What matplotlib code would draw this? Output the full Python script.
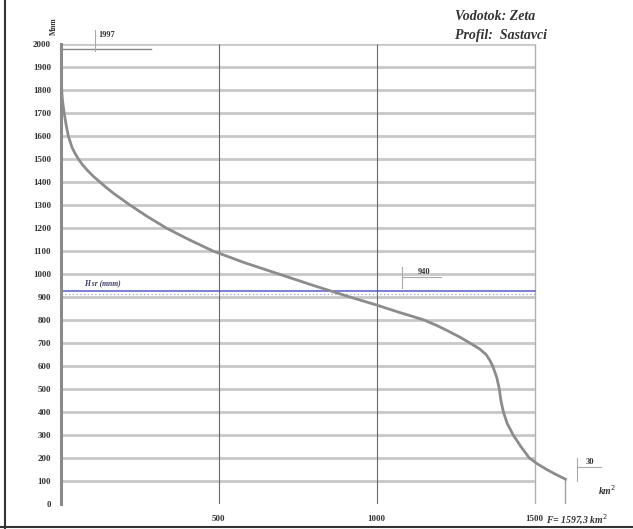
import numpy as np
import matplotlib.pyplot as plt
from matplotlib.lines import Line2D

# hypsographic curve
elev = [1997, 1950, 1900, 1850, 1800, 1750, 1700, 1650, 1600, 1550, 1525, 1500,
        1475, 1450, 1425, 1400, 1375, 1350, 1300, 1250, 1200, 1150, 1100, 1050,
        1000, 950, 900, 865, 832, 815, 800, 775, 750, 725, 700, 675, 650, 625,
        600, 550, 500, 450, 400, 350, 300, 250, 200, 175, 150, 130, 108]
area = [0, 0.5, 1, 2, 3, 6, 11, 17, 24, 36, 45, 56,
        69, 85, 103, 124, 145, 168, 219, 274, 334, 405, 482, 580,
        690, 800, 915, 1000, 1074, 1115, 1150, 1192, 1229, 1264, 1295, 1325,
        1346, 1358, 1367, 1380, 1388, 1393, 1401, 1413, 1432, 1456, 1483, 1508,
        1538, 1565, 1597.3]

y_ticks = list(range(0, 2001, 100))
x_ticks = [500, 1000, 1500]
F_total = 1597.3
H_mean = 927
H_max = 1997
H_mid = 940
H_min = 30

W, H = 633, 529
fig = plt.figure(figsize=(W / 100, H / 100), dpi=100)
# 0 km2 at x=60.7 px, 0.316 px per km2; 0 m at y=504 px, 0.23 px per m
ax = fig.add_axes([60.7 / W, (H - 504) / H, 560 / W, 460 / H])
ax.set_xlim(0, 560 / 0.316)
ax.set_ylim(0, 2000)

for s in ["top", "right", "bottom"]:
    ax.spines[s].set_visible(False)
ax.spines["left"].set_color("#8a8a8a")
ax.spines["left"].set_linewidth(2.2)

serif = ["Liberation Serif", "DejaVu Serif"]
ax.set_yticks(y_ticks)
ax.set_yticklabels([str(v) for v in y_ticks], family=serif, fontweight="bold",
                   fontsize=6.5, color="#333333")
ax.set_xticks(x_ticks)
ax.set_xticklabels([str(v) for v in x_ticks], family=serif, fontweight="bold",
                   fontsize=6.5, color="#333333")
ax.tick_params(axis="both", length=0)
ax.tick_params(axis="y", pad=7)
ax.tick_params(axis="x", pad=8)

# grid
ax.hlines(y_ticks[1:], 0, 1500, color="#c8c8c8", lw=2.0, zorder=1)
ax.vlines(x_ticks[:2], 0, 2000, color="#6a6a6a", lw=0.8, zorder=1)
ax.vlines(x_ticks[2], 0, 2000, color="#b0b0b0", lw=1.0, zorder=1)

# mean height line
ax.plot([0, 1500], [H_mean, H_mean], color="#5a5ac8", lw=1.1, zorder=2)
ax.plot([0, 1500], [H_mean - 14, H_mean - 14], color="#a0a0d8", lw=0.9,
        ls=(0, (1, 2)), zorder=2)
ax.text(75, H_mean + 25, "H sr (mnm)", family=serif, style="italic",
        fontweight="bold", fontsize=5.5, color="#3a3a6a")

# curve
ax.plot(area, elev, color="#8c8c8c", lw=2.0, zorder=3,
        solid_joinstyle="round")
ax.vlines(F_total, 0, elev[-1], color="#a0a0a0", lw=1.0, zorder=2)

# annotations
ax.plot([0, 285], [1980, 1980], color="#888888", lw=1.0, clip_on=False)
ax.plot([110, 110], [1970, 2060], color="#aaaaaa", lw=0.8, clip_on=False)
ax.text(120, 2030, str(H_max), family=serif, fontweight="bold", fontsize=6,
        color="#333333", clip_on=False)
ax.plot([1080, 1205], [H_mid + 45, H_mid + 45], color="#aaaaaa", lw=0.8)
ax.plot([1080, 1080], [H_mid, H_mid + 90], color="#aaaaaa", lw=0.8)
ax.text(1130, H_mid + 60, str(H_mid), family=serif, fontweight="bold",
        fontsize=6, color="#333333")
ax.plot([1633, 1710], [163, 163], color="#aaaaaa", lw=0.8, clip_on=False)
ax.plot([1633, 1633], [100, 200], color="#aaaaaa", lw=0.8, clip_on=False)
ax.text(1660, 175, str(H_min), family=serif, fontweight="bold", fontsize=6,
        color="#333333")

ax.text(-10, 2040, "Mnm", family=serif, fontweight="bold", fontsize=5.5,
        rotation=90, ha="right", va="bottom", color="#333333", clip_on=False)
ax.text(1700, 40, "km$^{2}$", family=serif, style="italic", fontweight="bold",
        fontsize=7, color="#333333", clip_on=False)
fig.text(546 / W, 1 - 520 / H, "F= 1597,3 km$^{2}$", family=serif,
         style="italic", fontweight="bold", fontsize=7, color="#333333",
         va="center")

fig.text(455 / W, 1 - 16 / H, "Vodotok: Zeta", family=serif, style="italic",
         fontweight="bold", fontsize=10, color="#333333", va="center")
fig.text(455 / W, 1 - 35 / H, "Profil:  Sastavci", family=serif, style="italic",
         fontweight="bold", fontsize=10, color="#333333", va="center")

# scan frame on left and bottom
fig.add_artist(Line2D([5 / W, 5 / W], [0, 1], color="#333333", lw=1.5))
fig.add_artist(Line2D([0, 1], [2 / H, 2 / H], color="#333333", lw=1.5))

fig.savefig("out.png", dpi=100)
